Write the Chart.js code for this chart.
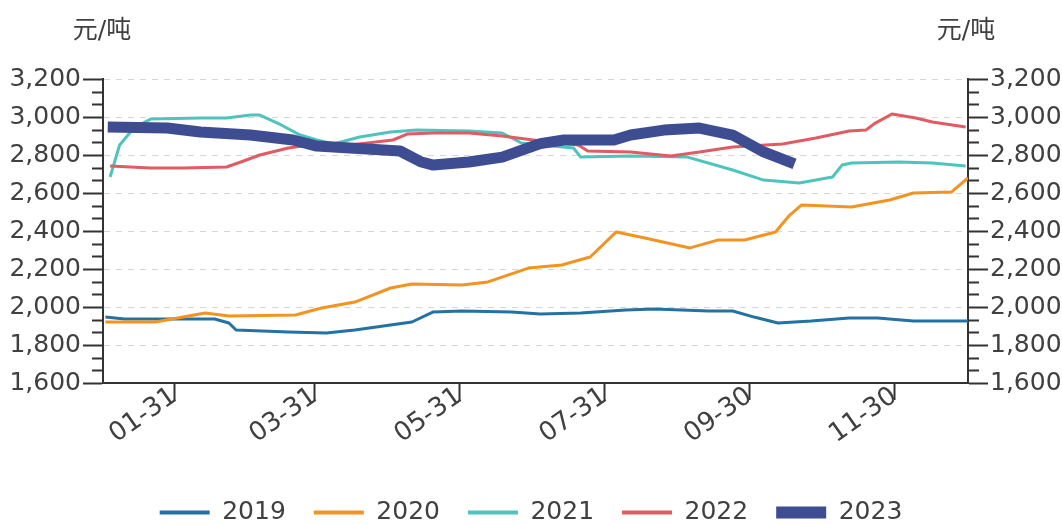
<!DOCTYPE html>
<html>
<head>
<meta charset="utf-8">
<script src="https://cdn.jsdelivr.net/npm/chart.js@4.4.0/dist/chart.umd.min.js"></script>
<style>
  html, body { margin: 0; padding: 0; background: #fff; }
</style>
</head>
<body>
<canvas id="price-chart" width="1062" height="525"></canvas>
<script>
// x values are day of year (0 = 01-01)
const tickDays = [30, 89, 150, 211, 272, 333];
const tickLabels = ['01-31', '03-31', '05-31', '07-31', '09-30', '11-30'];
const yearLabels = ['2019', '2020', '2021', '2022', '2023'];
const unitLabel = '元/吨';

const days2019 = [1, 9, 15, 47, 53, 56, 78, 94, 106, 118, 130, 139, 151, 172, 184, 201, 220, 232, 255, 265, 274, 284, 298, 314, 326, 341, 364];
const price2019 = [1947, 1937, 1937, 1937, 1916, 1879, 1868, 1863, 1879, 1900, 1921, 1974, 1979, 1974, 1963, 1968, 1984, 1989, 1979, 1979, 1947, 1916, 1926, 1942, 1942, 1926, 1926];

const days2020 = [1, 22, 43, 53, 81, 92, 106, 121, 130, 151, 162, 179, 193, 205, 216, 228, 247, 259, 270, 283, 289, 294, 315, 331, 341, 357, 364];
const price2020 = [1921, 1921, 1968, 1953, 1958, 1995, 2026, 2100, 2121, 2116, 2132, 2205, 2221, 2263, 2395, 2363, 2311, 2353, 2353, 2395, 2484, 2537, 2526, 2563, 2600, 2605, 2679];

const days2021 = [3, 7, 13, 20, 41, 52, 62, 66, 75, 83, 90, 97, 108, 121, 132, 154, 168, 176, 198, 201, 222, 246, 265, 278, 293, 307, 311, 315, 335, 349, 363];
const price2021 = [2684, 2853, 2942, 2989, 2995, 2995, 3010, 3010, 2958, 2905, 2879, 2858, 2895, 2921, 2931, 2926, 2916, 2863, 2837, 2789, 2795, 2789, 2721, 2668, 2653, 2684, 2747, 2758, 2763, 2758, 2742];

const days2022 = [3, 20, 34, 52, 58, 66, 78, 90, 104, 122, 128, 139, 154, 168, 181, 200, 204, 222, 239, 251, 265, 286, 300, 314, 321, 325, 332, 342, 349, 363];
const price2022 = [2742, 2732, 2732, 2737, 2763, 2800, 2837, 2858, 2853, 2879, 2910, 2916, 2916, 2900, 2879, 2853, 2821, 2816, 2795, 2816, 2842, 2858, 2889, 2926, 2931, 2968, 3016, 2995, 2974, 2947];

const days2023 = [2, 27, 41, 62, 80, 90, 104, 125, 134, 139, 154, 168, 184, 194, 215, 222, 236, 251, 265, 278, 291];
const price2023 = [2947, 2942, 2921, 2905, 2879, 2847, 2837, 2821, 2763, 2747, 2763, 2789, 2860, 2879, 2879, 2905, 2931, 2942, 2905, 2816, 2753];

const lineColors = ['#2471a3', '#f39322', '#4fc3bd', '#e15b63', '#3e4c92'];
const lineWidths = [3, 3, 3, 3, 11];
const drawOrder = [2, 1, 4, 3, 0];
const axisColor = '#333333';
const textColor = '#404040';
const gridColor = '#d6d6d6';
const fontFamily = '"DejaVu Sans", "Noto Sans CJK SC", sans-serif';

const toPoints = (days, values) => days.map((d, i) => ({ x: d, y: values[i] }));
const seriesPoints = [
    toPoints(days2019, price2019),
    toPoints(days2020, price2020),
    toPoints(days2021, price2021),
    toPoints(days2022, price2022),
    toPoints(days2023, price2023)
];

// minor ticks on both y axes and the unit labels above them
const axisExtras = {
    id: 'axisExtras',
    afterDraw(chart) {
        const { ctx, scales: { y, y1 } } = chart;
        ctx.save();
        ctx.strokeStyle = axisColor;
        ctx.lineWidth = 2;
        for (let v = y.min; v < y.max; v += 200) {
            for (let k = 1; k < 3; k++) {
                const py = Math.round(y.getPixelForValue(v + k * 200 / 3)) + 0.5;
                ctx.beginPath();
                ctx.moveTo(y.right - 11, py);
                ctx.lineTo(y.right, py);
                ctx.moveTo(y1.left, py);
                ctx.lineTo(y1.left + 11, py);
                ctx.stroke();
            }
        }
        ctx.fillStyle = textColor;
        ctx.font = '25px ' + fontFamily;
        ctx.textAlign = 'center';
        ctx.textBaseline = 'middle';
        ctx.fillText(unitLabel, y.right - 1, 31);
        ctx.fillText(unitLabel, y1.left - 2, 31);
        ctx.restore();
    }
};

const yAxis = (position, width) => ({
    type: 'linear',
    position: position,
    min: 1600,
    max: 3200,
    afterFit: scale => { scale.width = width; },
    ticks: {
        stepSize: 200,
        padding: 2,
        color: textColor,
        font: { family: fontFamily, size: 25 },
        callback: v => v.toLocaleString('en-US')
    },
    grid: {
        drawOnChartArea: position === 'left',
        color: gridColor,
        lineWidth: 1,
        tickLength: 20,
        tickColor: axisColor,
        tickWidth: 2
    },
    border: { display: true, color: axisColor, width: 2, dash: [6, 6] }
});

new Chart(document.getElementById('price-chart').getContext('2d'), {
    type: 'line',
    data: {
        datasets: yearLabels.map((label, i) => ({
            label: label,
            data: seriesPoints[i],
            borderColor: lineColors[i],
            backgroundColor: lineColors[i],
            borderWidth: lineWidths[i],
            borderJoinStyle: 'round',
            pointRadius: 0,
            tension: 0,
            order: drawOrder[i],
            yAxisID: 'y'
        }))
    },
    options: {
        responsive: false,
        animation: false,
        layout: { padding: { top: 79, bottom: -10, left: 0, right: 0 } },
        plugins: {
            tooltip: { enabled: false },
            legend: {
                position: 'bottom',
                labels: {
                    usePointStyle: true,
                    pointStyle: 'line',
                    pointStyleWidth: 50,
                    padding: 28,
                    color: textColor,
                    font: { family: fontFamily, size: 25 },
                    sort: (a, b) => a.datasetIndex - b.datasetIndex,
                    generateLabels(chart) {
                        const items = Chart.defaults.plugins.legend.labels.generateLabels(chart);
                        items.forEach(item => { item.lineWidth = item.datasetIndex === 4 ? 12 : 4; });
                        return items;
                    }
                }
            }
        },
        scales: {
            x: {
                type: 'linear',
                min: 0,
                max: 364,
                afterBuildTicks: scale => { scale.ticks = tickDays.map(d => ({ value: d })); },
                afterFit: scale => { scale.height = 89; },
                ticks: {
                    autoSkip: false,
                    minRotation: 35,
                    maxRotation: 35,
                    padding: -19,
                    color: textColor,
                    font: { family: fontFamily, size: 26 },
                    callback: v => tickLabels[tickDays.indexOf(v)]
                },
                grid: {
                    drawOnChartArea: false,
                    tickLength: 17,
                    tickColor: axisColor,
                    tickWidth: 2
                },
                border: { display: true, color: axisColor, width: 2 }
            },
            y: yAxis('left', 103),
            y1: yAxis('right', 94)
        }
    },
    plugins: [axisExtras]
});
</script>
</body>
</html>
